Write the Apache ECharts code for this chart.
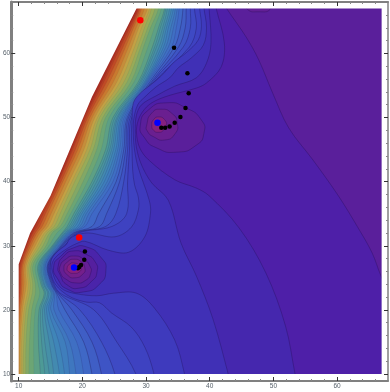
<!DOCTYPE html>
<html><head><meta charset="utf-8">
<style>html,body{margin:0;padding:0;background:#fff}#c{width:390px;height:392px}</style>
<script src="https://cdn.jsdelivr.net/npm/echarts@6/dist/echarts.min.js"></script></head>
<body><div id="c"></div>
<script>
const xMajor=[10,20,30,40,50,60];
const yMajor=[10,20,30,40,50,60];
const xMinor=[12,14,16,18,22,24,26,28,32,34,36,38,42,44,46,48,52,54,56,58,62,64,66];
const yMinor=[12,14,16,18,22,24,26,28,32,34,36,38,42,44,46,48,52,54,56,58,62,64,66];
const domainEdge=[[10,10],[10,27.1],[11.8,32],[15,37.8],[21.5,53.2],[28.5,67]];
const redPoints=[[29.1,65.2],[19.5,31.3]];
const bluePoints=[[31.8,49.2],[18.7,26.6]];
const blackUpper=[[34.4,60.9],[36.5,56.9],[36.7,53.8],[36.2,51.5],[35.4,50.1],[34.5,49.2],[33.7,48.6],[33,48.4],[32.4,48.4]];
const blackLower=[[20.4,29.1],[20.3,27.8],[19.8,27],[19.5,26.7],[19.3,26.5]];

// contour levels 1-5: read as traced curves
const c1=[[41.5,69],[42.6,67.1],[45.7,62.6],[47.7,59],[49.9,53.8],[52.4,48.4],[56.2,43.4],[60.2,37.8],[63.3,32.8],[65.5,28.9],[66.9,25.3],[69,21]];
const c2=[[40.6,69],[41,67.1],[42.3,61.6],[41.8,57.9],[39.5,55.4],[37.9,54.6],[33.5,53.4],[30.9,52.3],[29.45,50.9],[28.7,49.3],[28.5,47.6],[29,45.3],[30.4,43.4],[34.5,40.3],[37.9,39],[39.9,37.8],[44.6,32.8],[48.8,25.8],[51.9,17.5],[53.4,10],[53.8,8]];
const c3=[[39.8,69],[39.9,67.1],[40.2,61.6],[39.5,58.5],[37.9,56.2],[34.5,54.9],[31.6,53.4],[29.3,52],[28.5,50.4],[28.3,48.1],[28.5,45.3],[29.3,42.6],[30.9,39.8],[33.5,37.1],[35.5,30.4],[37.9,25.3],[40.5,18.6],[42.9,10],[43.3,8]];
const c4=[[39,69],[39.1,67.1],[39.5,64],[39,61.3],[37.1,59.3],[35.1,57.8],[33.7,56.2],[31.6,54.8],[29.8,53.2],[28.7,52],[28.05,49.6],[28,47.3],[28.2,44.9],[28.8,42.1],[30.5,37.1],[30.7,35.1],[29.8,31.4],[27.3,29],[24.1,29.3],[20.4,30.7],[19,30.3],[18,29.8],[16.75,29],[15.7,28.1],[15.2,27],[15.4,25.6],[16,24.2],[17.1,23.1],[19.1,22.5],[22.3,22.2],[24.9,22.6],[28.5,22.6],[31.3,20.3],[34.5,15.3],[36,10.2],[36.3,8]];
const c5=[[38.3,69],[38.4,67.1],[38.7,64.3],[38.2,62.1],[36.3,60.1],[34.45,58.7],[32.4,56.5],[30.85,55.2],[29.3,54],[28.05,52.4],[27.8,49.6],[27.7,47.3],[27.8,44.9],[27.9,41.8],[28.2,39.5],[28.8,37.5],[28.8,35.6],[27.7,32.9],[25.1,31.4],[21,32],[19.15,31.7],[18.05,31.1],[17.4,30.1],[16.3,29.3],[15.25,28.1],[15,27],[15.15,25.4],[15.75,24],[16.8,22.9],[18.35,21.9],[20.7,21.2],[22.7,21.1],[24.6,19.5],[27.7,17.3],[29.8,14.2],[31.2,10.2],[31.4,8]];

// contour levels 6+: x read where each curve crosses these y values
const rowY=[67,64,61,55.5,50,45,40,35,33,32,30,27,24,22.5,20,15,10];
const rowLevels=[6,7,8,9,10,11,12,13,14,15,16,17,18,20,22,24,26,28,30,32,34,36,38,40,42];
const rowX=[
[37.6,37.9,36.8,31.25,27.75,27.4,27.1,26.95,24.6,19.45,17.2,14.9,15.55,16.65,21.8,25.4,28.4],
[36.95,36.95,35.85,31,27.5,27.1,26.5,25.25,23.65,19.15,16.95,14.75,15.4,16.4,19.6,23,25.1],
[36.3,36.15,35.1,30.8,27.25,26.8,25.85,23.8,22.7,18.85,16.8,14.65,15.25,16.2,18.35,21.5,23],
[35.8,35.4,34.45,30.55,27.05,26.5,25.3,22.55,21.5,18.6,16.65,14.55,15.15,16,17.25,20.2,21.5],
[35.2,34.75,34,30.3,26.8,26.2,24.8,21.5,20.4,18.35,16.5,14.45,15,15.85,16.3,19.1,20.2],
[34.9,34.3,33.5,30.15,26.55,25.85,24.3,21,20,18.15,16.35,14.25,14.8,15.6,15.55,18,19],
[34.6,33.9,33.1,30,26.3,25.55,23.9,20.6,19.6,17.95,16.2,14.15,14.6,15.45,15.05,17.3,18],
[34.3,33.5,32.75,29.85,26.1,25.25,23.45,20.25,19.25,17.75,16,14,14.45,15.25,14.7,16.3,17.2],
[34,33.2,32.4,29.7,25.85,24.9,23.05,19.9,18.85,17.55,15.85,13.85,14.3,15.1,14.35,15.5,16.4],
[33.7,32.9,32.05,29.45,25.6,24.6,22.65,19.6,18.5,17.35,15.7,13.65,14.05,14.75,14.05,14.8,15.5],
[33.35,32.6,31.65,29.2,25.4,24.3,22.25,19.3,18.2,17.2,15.55,13.45,13.9,14.55,13.75,14.1,14.8],
[33.1,32.25,31.35,29,25.1,24,21.85,19,17.9,16.95,15.4,13.25,13.7,14.2,13.45,13.6,14.1],
[32.9,31.95,31,28.75,24.8,23.65,21.5,18.65,17.6,16.8,15.25,13.05,13.5,14,13.2,13.1,13.4],
[32.4,31.3,30.3,28.1,24.2,22.95,20.8,18.15,17.05,16,14.75,12.65,13.05,13.3,12.6,12.35,12.4],
[31.95,30.7,29.6,27.6,23.65,22.25,20.1,17.6,16.5,15.25,14.3,12.25,12.6,12.6,12.05,11.7,11.6],
[31.4,30.25,29.15,27,23.2,21.7,19.45,17.05,16.05,14.85,13.8,11.95,12.2,12.1,11.55,11.15,11.1],
[30.85,29.75,28.7,26.5,22.7,21.2,18.8,16.5,15.55,14.45,13.35,11.65,11.8,11.7,11.15,10.8,10.7],
[30.55,29.3,28.2,25.9,22.35,20.7,18.35,16,15.1,14.05,12.95,11.4,11.5,11.35,10.85,10.45,10.4],
[30.25,28.85,27.75,25.4,21.95,20.25,17.9,15.55,14.6,13.7,12.6,11.2,11.2,11,10.6,10.25,10.2],
[29.75,28.45,27.25,24.85,21.55,19.75,17.4,15.1,14.15,13.3,12.2,10.95,10.85,10.7,10.35,10.05,10.05],
[29.3,28.05,26.8,24.3,21.2,19.3,16.95,14.6,13.7,12.9,11.9,10.7,10.55,10.45,10.15,9.9,9.9],
[29.05,27.75,26.4,23.8,20.85,18.9,16.65,14.2,13.3,12.6,11.6,10.5,10.35,10.25,10,9.7,9.75],
[28.85,27.45,26,23.35,20.55,18.5,16.3,13.85,12.9,12.25,11.35,10.3,10.15,10.1,9.85,9.55,9.6],
[28.7,27.2,25.7,23.05,20.3,18.3,16.1,13.5,12.6,12.05,11.2,10.15,10,9.9,9.7,9.4,9.45],
[28.5,27.05,25.45,22.8,20.1,18.05,15.95,13.3,12.25,11.8,11,10,9.85,9.75,9.6,9.25,9.3]
];

// closed rings
const topPatch=[[45,69],[45.7,67.1],[47.7,66.5],[49.7,67.1],[50,69]];
const ringA1=[[29.1,48.8],[30.4,51.2],[33.2,52.3],[36.3,51.5],[38.7,49.6],[39.1,47.6],[37.9,45.7],[34.8,44.6],[31.6,45.3],[29.8,46.8]];
const ringA2=[[30.1,48.8],[30.9,50.7],[32.4,51.3],[34,50.7],[34.9,49.2],[34.5,47.4],[32.9,46.5],[31.2,47],[30.2,47.9]];
const ringA3=[[30.9,48.8],[31.2,49.7],[32,50.1],[32.9,49.7],[33.2,48.8],[32.7,48],[32,47.7],[31.2,48]];
const ringB1=[[15.5,26.8],[16.65,28.4],[18.4,29.6],[20.7,29.8],[23,28.1],[23.7,26.2],[22.7,24],[20.2,22.8],[17.7,23.2],[16.2,24.7]];
const ringB2=[[16.2,26.8],[17.1,28.4],[18.7,29.2],[20.5,28.7],[22,27.5],[22.3,25.9],[21.5,24.5],[19.6,23.4],[17.6,23.9],[16.5,25.5]];
const ringB3=[[16.5,26.8],[17.4,27.9],[18.7,28.4],[20.2,27.9],[21.2,26.8],[21.3,25.7],[20.5,24.6],[19,24.2],[17.4,24.8],[16.6,25.7]];
const ringB4=[[17.1,26.5],[17.7,27.5],[18.7,27.9],[19.8,27.5],[20.4,26.5],[20.1,25.6],[18.8,25],[17.7,25.4]];
const ringB5=[[17.6,26.5],[18.1,27.2],[18.7,27.3],[19.5,27],[19.8,26.5],[19.5,25.9],[18.7,25.7],[17.9,25.9]];

const colorStops=[[1,'#5a1f9b'],[2,'#4e1fa8'],[3,'#4527ae'],[4,'#4030b6'],[5,'#3e3abd'],[7,'#3e4ac4'],[10,'#3f68c6'],[14,'#3f85b8'],[18,'#4d9a96'],[22,'#6ca574'],[26,'#98ab58'],[30,'#c3a144'],[34,'#c9792f'],[38,'#c04a25'],[43,'#a82a20']];

function rampColor(k){
  for(let i=1;i<colorStops.length;i++){
    if(k<=colorStops[i][0]){
      const a=colorStops[i-1],b=colorStops[i],t=(k-a[0])/(b[0]-a[0]);
      const h=s=>[1,3,5].map(j=>parseInt(s.substr(j,2),16));
      const A=h(a[1]),B=h(b[1]);
      return 'rgb('+A.map((v,j)=>Math.round(v+(B[j]-v)*t)).join(',')+')';
    }
  }
  return colorStops[colorStops.length-1][1];
}
const lineFor=k=>k>=20?'rgba(28,10,70,0.08)':k>=10?'rgba(28,10,70,0.2)':'rgba(28,10,70,0.42)';
const shapes=[];
function region(pts,k){
  const first=pts[0],last=pts[pts.length-1];
  shapes.push({pts:pts.concat([[75,last[1]],[75,72],[first[0],72]]),fill:rampColor(k),stroke:lineFor(k),smooth:0.35});
}
shapes.push({pts:[[5,5],[75,5],[75,72],[5,72]],fill:rampColor(43),stroke:'none',smooth:0});
rowLevels.slice().reverse().forEach(k=>{
  const xs=rowX[rowLevels.indexOf(k)];
  const pts=[[xs[0],69]].concat(xs.map((x,i)=>[x,rowY[i]]));
  pts.push([xs[xs.length-1],8]);
  region(pts,k);
});
region(c5,5);region(c4,4);region(c3,3);region(c2,2);region(c1,1);
function ring(pts,fill){shapes.push({pts,fill,stroke:lineFor(1),smooth:0.6});}
ring(topPatch,'#621f96');
ring(ringA1,'#5a1f9b');ring(ringA2,'#6a1f90');ring(ringA3,'#85207f');
ring(ringB1,'#4a24aa');ring(ringB2,'#551f9f');ring(ringB3,'#641f95');ring(ringB4,'#741f8b');ring(ringB5,'#8a2080');
// white outside the sampled domain
const W='#ffffff';
shapes.push({pts:[[5,5]].concat([[10,5]],domainEdge,[[28.5,72],[5,72]]),fill:W,stroke:'none',smooth:0});
shapes.push({pts:[[5,5],[75,5],[75,10],[5,10]],fill:W,stroke:'none',smooth:0});
shapes.push({pts:[[5,67],[75,67],[75,72],[5,72]],fill:W,stroke:'none',smooth:0});
shapes.push({pts:[[67,5],[75,5],[75,72],[67,72]],fill:W,stroke:'none',smooth:0});

const FRAME='#808080';
function xAxis(pos,vals,len,col,labels,w){
  return {type:'value',position:pos,min:8.83,max:68,z:10,splitLine:{show:false},
    axisLine:{show:w>0,onZero:false,lineStyle:{color:FRAME,width:w||1}},
    axisTick:{show:true,inside:true,length:len,lineStyle:{color:col,width:1},customValues:vals},
    axisLabel:labels?{show:true,customValues:vals,fontSize:6.5,color:'#56606a',margin:2,fontFamily:'Liberation Sans'}:{show:false}};
}
function yAxis(pos,vals,len,col,labels,w){
  return {type:'value',position:pos,min:8.9,max:68.03,z:10,splitLine:{show:false},
    axisLine:{show:w>0,onZero:false,lineStyle:{color:FRAME,width:w||1}},
    axisTick:{show:true,inside:true,length:len,lineStyle:{color:col,width:1},customValues:vals},
    axisLabel:labels?{show:true,customValues:vals,fontSize:6.5,color:'#56606a',margin:1,fontFamily:'Liberation Sans'}:{show:false}};
}
const chart=echarts.init(document.getElementById('c'),null,{renderer:'canvas'});
const dot=(data,color,size)=>({type:'scatter',data,symbolSize:size,z:6,silent:true,
  itemStyle:{color,opacity:1},animation:false,xAxisIndex:0,yAxisIndex:0});
chart.setOption({
  animation:false,
  grid:{left:9,right:2,top:2,bottom:11,containLabel:false},
  xAxis:[xAxis('bottom',xMajor,4,'#333',true,2),xAxis('bottom',xMinor,2,'#888',false,0),
         xAxis('top',xMajor,4,'#333',false,2),xAxis('top',xMinor,2,'#888',false,0)],
  yAxis:[yAxis('left',yMajor,4,'#333',true,3),yAxis('left',yMinor,2,'#888',false,0),
         yAxis('right',yMajor,4,'#333',false,1.5),yAxis('right',yMinor,2,'#888',false,0)],
  series:[
    {type:'custom',coordinateSystem:'cartesian2d',xAxisIndex:0,yAxisIndex:0,silent:true,z:2,clip:true,
     data:shapes.map((s,i)=>[20,20,i]),
     encode:{x:0,y:1},
     renderItem:(params,api)=>{
       const s=shapes[params.dataIndex];
       return {type:'polygon',shape:{points:s.pts.map(p=>api.coord(p)),smooth:s.smooth},
         style:{fill:s.fill,stroke:s.stroke==='none'?null:s.stroke,lineWidth:0.7}};
     }},
    dot(blackUpper,'#000',4.5),dot(blackLower,'#000',4.5),
    dot(redPoints,'#ff0000',6.5),dot(bluePoints,'#0000ff',6.5)
  ]
});
</script></body></html>
